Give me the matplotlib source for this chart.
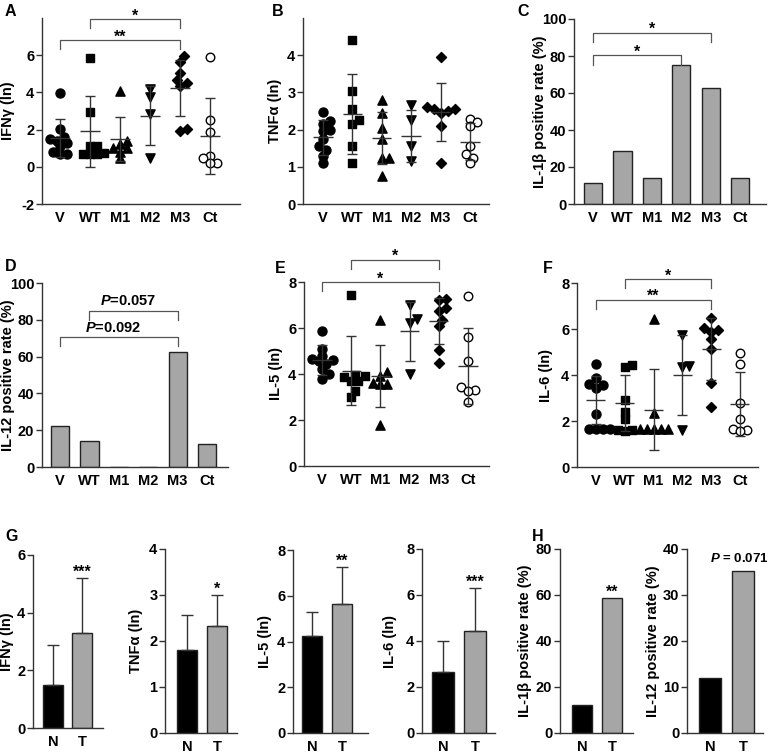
import numpy as np
import matplotlib
matplotlib.use("Agg")
import matplotlib.pyplot as plt

plt.rcParams['font.family'] = ['Liberation Sans', 'DejaVu Sans']
plt.rcParams['font.weight'] = 'bold'
plt.rcParams['axes.unicode_minus'] = False
plt.rcParams['mathtext.fontset'] = 'custom'
plt.rcParams['mathtext.it'] = 'Liberation Sans:italic:bold'
plt.rcParams['mathtext.rm'] = 'Liberation Sans:bold'

groups = ["V", "WT", "M1", "M2", "M3", "Ct"]

# A - IFNy (ln)
ifng = [
    [3.95, 2.05, 1.6, 1.5, 1.3, 1.1, 0.8, 0.7, 0.7, 1.4],
    [5.85, 2.95, 1.1, 1.1, 0.75, 0.7, 0.7, 0.7],
    [4.1, 1.4, 1.2, 1.0, 1.0, 0.8, 0.45],
    [4.2, 3.75, 2.85, 0.45],
    [5.95, 5.65, 5.05, 4.65, 4.5, 4.35, 2.05, 1.95],
    [5.9, 2.5, 1.85, 0.6, 0.45, 0.2, 0.2],
]
ifng_mean = [1.55, 1.9, 1.5, 2.75, 4.25, 1.65]
ifng_sd = [1.0, 1.9, 1.2, 1.6, 1.5, 2.05]

# B - TNFa (ln)
tnfa = [
    [2.48, 2.22, 2.15, 2.0, 1.95, 1.75, 1.55, 1.45, 1.3, 1.1],
    [4.4, 3.05, 2.55, 2.25, 2.15, 1.55, 1.1],
    [2.8, 2.45, 2.05, 1.75, 1.25, 1.25, 0.75],
    [2.65, 2.25, 1.55, 1.15],
    [3.95, 2.6, 2.55, 2.55, 2.5, 2.45, 2.1, 1.1],
    [2.28, 2.2, 2.1, 1.55, 1.35, 1.25, 1.1],
]
tnfa_mean = [1.8, 2.42, 1.78, 1.82, 2.48, 1.68]
tnfa_sd = [0.47, 1.07, 0.7, 0.7, 0.78, 0.5]

# C - IL-1b positive rate (%)
il1b_rate = [11.1, 28.6, 14.3, 75.0, 62.5, 14.3]

# D - IL-12 positive rate (%)
il12_rate = [22.2, 14.3, 0, 0, 62.5, 12.5]

# E - IL-5 (ln)
il5 = [
    [5.88, 5.1, 4.8, 4.65, 4.6, 4.55, 4.45, 4.2, 4.0, 3.8],
    [7.45, 3.95, 3.9, 3.85, 3.7, 3.7, 3.25, 3.0],
    [6.35, 4.1, 3.9, 3.6, 3.55, 3.55, 1.8],
    [7.0, 6.4, 6.2, 4.0],
    [7.25, 7.2, 6.85, 6.75, 6.35, 6.1, 5.05, 4.5],
    [7.4, 5.6, 4.55, 3.45, 3.3, 3.25, 2.8],
]
il5_mean = [4.6, 4.15, 3.9, 5.85, 6.3, 4.35]
il5_sd = [0.65, 1.5, 1.35, 1.3, 1.0, 1.65]

# F - IL-6 (ln)
il6 = [
    [4.5, 3.85, 3.6, 3.55, 3.45, 2.3, 1.65, 1.65, 1.65, 1.65],
    [4.45, 4.35, 2.9, 2.4, 2.1, 1.6, 1.55, 1.6],
    [6.45, 2.35, 1.65, 1.65, 1.65, 1.65, 1.65],
    [5.75, 4.4, 4.35, 1.6],
    [6.5, 6.05, 5.95, 5.85, 5.55, 5.15, 3.65, 2.6],
    [4.95, 4.5, 2.8, 2.1, 1.65, 1.6, 1.55],
]
il6_mean = [2.9, 2.78, 2.5, 4.0, 5.15, 2.75]
il6_sd = [1.05, 1.2, 1.78, 1.75, 1.35, 1.4]

# G / H - N vs T
nt = ["N", "T"]
g_ifng_mean, g_ifng_sd = [1.5, 3.3], [1.37, 1.9]
g_tnfa_mean, g_tnfa_sd = [1.8, 2.32], [0.76, 0.68]
g_il5_mean, g_il5_sd = [4.22, 5.65], [1.08, 1.62]
g_il6_mean, g_il6_sd = [2.65, 4.45], [1.33, 1.85]
h_il1b = [12.0, 58.8]
h_il12 = [12.0, 35.3]

W, H = 769, 754
FS = 10.5
fig = plt.figure(figsize=(W / 100, H / 100), dpi=100)


def make_ax(l, t, r, b, label, label_right):
    ax = fig.add_axes([l / W, 1 - b / H, (r - l) / W, (b - t) / H])
    for s in ["top", "right"]:
        ax.spines[s].set_visible(False)
    for s in ["left", "bottom"]:
        ax.spines[s].set_color("#333333")
        ax.spines[s].set_linewidth(1.0)
    ax.tick_params(colors="#333333", labelcolor="black", labelsize=FS, width=1.0, length=4, pad=1.5)
    ax.tick_params(axis="x", length=0, pad=5)
    ax.set_ylabel(label, fontsize=FS, fontweight="bold")
    ax.yaxis.set_label_coords((label_right - l) / (r - l), 0.5)
    return ax


def swarm_offsets(ax, x0, vals, diam):
    p0 = ax.transData.transform((0, 0))
    p1 = ax.transData.transform((1, 1))
    sx, sy = p1[0] - p0[0], p1[1] - p0[1]
    vals = np.asarray(vals, float)
    offs = np.zeros(len(vals))
    placed = []
    for i in np.argsort(vals):
        py = vals[i] * sy
        done = False
        for k in range(0, 30):
            for sgn in ([0] if k == 0 else [1, -1]):
                dx = sgn * k * diam * 0.5
                if all((dx - qx) ** 2 + (py - qy) ** 2 >= (diam * 0.85) ** 2 for qx, qy in placed):
                    placed.append((dx, py))
                    offs[i] = dx / sx
                    done = True
                    break
            if done:
                break
    return offs


markers = [
    dict(marker="o", s=42, fc="black", ec="black"),
    dict(marker="s", s=40, fc="black", ec="black"),
    dict(marker="^", s=44, fc="black", ec="black"),
    dict(marker="v", s=44, fc="black", ec="black"),
    dict(marker="D", s=26, fc="black", ec="black"),
    dict(marker="o", s=38, fc="white", ec="black"),
]


def scatter_panel(ax, data, means, sds, ylim, yticks, xlim):
    ax.set_xlim(*xlim)
    ax.set_ylim(*ylim)
    ax.set_yticks(yticks)
    ax.set_xticks(range(len(groups)))
    ax.set_xticklabels(groups)
    for i, vals in enumerate(data):
        offs = swarm_offsets(ax, i, vals, 7.0)
        ax.scatter(i + offs, vals, linewidths=1.0, zorder=3, **markers[i])
        ax.hlines(means[i], i - 0.33, i + 0.33, color="#333333", lw=1.0, zorder=4)
        ax.errorbar(i, means[i], yerr=sds[i], fmt="none", ecolor="#333333",
                    elinewidth=1.0, capsize=3.5, capthick=1.0, zorder=4)


def bracket(ax, x1, x2, y, leg, text, italic_p=False):
    ax.plot([x1, x1, x2, x2], [y - leg, y, y, y - leg], color="#555555", lw=0.9, clip_on=False)
    if italic_p:
        ax.annotate(text, ((x1 + x2) / 2, y), xytext=(-4, 2), textcoords="offset points",
                    ha="center", va="bottom", fontsize=FS, fontweight="bold", annotation_clip=False)
    else:
        ax.annotate(text, ((x1 + x2) / 2, y), xytext=(0, -1), textcoords="offset points",
                    ha="center", va="baseline", fontsize=11.5, fontweight="bold", annotation_clip=False)


def rate_panel(ax, vals, xlim):
    ax.set_xlim(*xlim)
    ax.set_ylim(0, 100)
    ax.set_yticks([0, 20, 40, 60, 80, 100])
    ax.set_xticks(range(len(groups)))
    ax.set_xticklabels(groups)
    ax.bar(range(len(groups)), vals, width=0.62, color="#a6a6a6", edgecolor="#222222", lw=1.0)


# A
ax = make_ax(42, 18, 240, 204, "IFNγ (ln)", 15)
scatter_panel(ax, ifng, ifng_mean, ifng_sd, (-2, 8), [-2, 0, 2, 4, 6], (-0.6, 6.0))
bracket(ax, 0, 4, 6.82, 0.47, "**")
bracket(ax, 1, 4, 7.94, 0.5, "*")

# B
ax = make_ax(303, 18, 489, 204, "TNFα (ln)", 282)
scatter_panel(ax, tnfa, tnfa_mean, tnfa_sd, (0, 5), [0, 1, 2, 3, 4], (-0.68, 5.65))

# C
ax = make_ax(574, 19, 766, 204, "IL-1β positive rate (%)", 547)
rate_panel(ax, il1b_rate, (-0.65, 5.88))
bracket(ax, 0, 3, 80.4, 5.0, "*")
bracket(ax, 0, 4, 92.6, 5.0, "*")

# D
ax = make_ax(42, 283, 228, 467, "IL-12 positive rate (%)", 15)
rate_panel(ax, il12_rate, (-0.61, 5.71))
bracket(ax, 0, 4, 70.5, 5.0, r"$\it{P}$=0.092", italic_p=True)
bracket(ax, 1, 4, 85.0, 5.0, r"$\it{P}$=0.057", italic_p=True)

# E
ax = make_ax(304, 282, 489, 466, "IL-5 (ln)", 283)
scatter_panel(ax, il5, il5_mean, il5_sd, (0, 8), [0, 2, 4, 6, 8], (-0.62, 5.72))
bracket(ax, 0, 4, 8.0, 0.4, "*")
bracket(ax, 1, 4, 8.97, 0.4, "*")

# F
ax = make_ax(577, 283, 758, 467, "IL-6 (ln)", 553)
scatter_panel(ax, il6, il6_mean, il6_sd, (0, 8), [0, 2, 4, 6, 8], (-0.66, 5.63))
bracket(ax, 0, 4, 7.27, 0.4, "**")
bracket(ax, 1, 4, 8.17, 0.4, "*")


def nt_panel(box, label_right, vals, sds, ylim, yticks, xlim, ylabel, star):
    ax = make_ax(*box, ylabel, label_right)
    ax.set_xlim(*xlim)
    ax.set_ylim(*ylim)
    ax.set_yticks(yticks)
    ax.set_xticks([0, 1])
    ax.set_xticklabels(nt)
    ax.bar([0, 1], vals, width=0.68, color=["black", "#a6a6a6"], edgecolor="#222222", lw=1.0)
    if sds is not None:
        ax.errorbar([0, 1], vals, yerr=[[0, 0], sds], fmt="none", ecolor="#333333",
                    elinewidth=1.0, capsize=4.5, capthick=1.0)
        top = vals[1] + sds[1]
    else:
        top = vals[1]
    if star.startswith("$"):
        ax.annotate(star, (1, top), xytext=(-3, 4), textcoords="offset points", ha="center",
                    va="bottom", fontsize=9.5, fontweight="bold", annotation_clip=False)
    else:
        ax.annotate(star, (1, top), xytext=(0, 1), textcoords="offset points", ha="center",
                    va="baseline", fontsize=11.5, fontweight="bold", annotation_clip=False)
    return ax


nt_panel((33, 555, 103, 728), 14, g_ifng_mean, g_ifng_sd, (0, 6), [0, 2, 4, 6], (-0.69, 1.72), "IFNγ (ln)", "***")
nt_panel((165, 549, 237, 733), 143, g_tnfa_mean, g_tnfa_sd, (0, 4), [0, 1, 2, 3, 4], (-0.73, 1.67), "TNFα (ln)", "*")
nt_panel((293, 550, 368, 733), 272, g_il5_mean, g_il5_sd, (0, 8), [0, 2, 4, 6, 8], (-0.63, 1.87), "IL-5 (ln)", "**")
nt_panel((422, 549, 495, 733), 397, g_il6_mean, g_il6_sd, (0, 8), [0, 2, 4, 6, 8], (-0.66, 1.63), "IL-6 (ln)", "***")
nt_panel((560, 549, 633, 733), 532, h_il1b, None, (0, 80), [0, 20, 40, 60, 80], (-0.73, 1.7),
         "IL-1β positive rate (%)", "**")
nt_panel((687, 549, 763, 733), 660, h_il12, None, (0, 40), [0, 10, 20, 30, 40], (-0.7, 1.6),
         "IL-12 positive rate (%)", r"$\it{P}$ = 0.071")

# panel letters
for letter, (x, y) in zip("ABCDEFGH", [(5, 4), (272, 4), (517, 4), (5, 259), (275, 261),
                                        (543, 261), (5, 529), (532, 529)]):
    fig.text(x / W, 1 - y / H, letter, fontsize=11.5, fontweight="bold", va="top", ha="left")

fig.savefig("out.png", dpi=100)
